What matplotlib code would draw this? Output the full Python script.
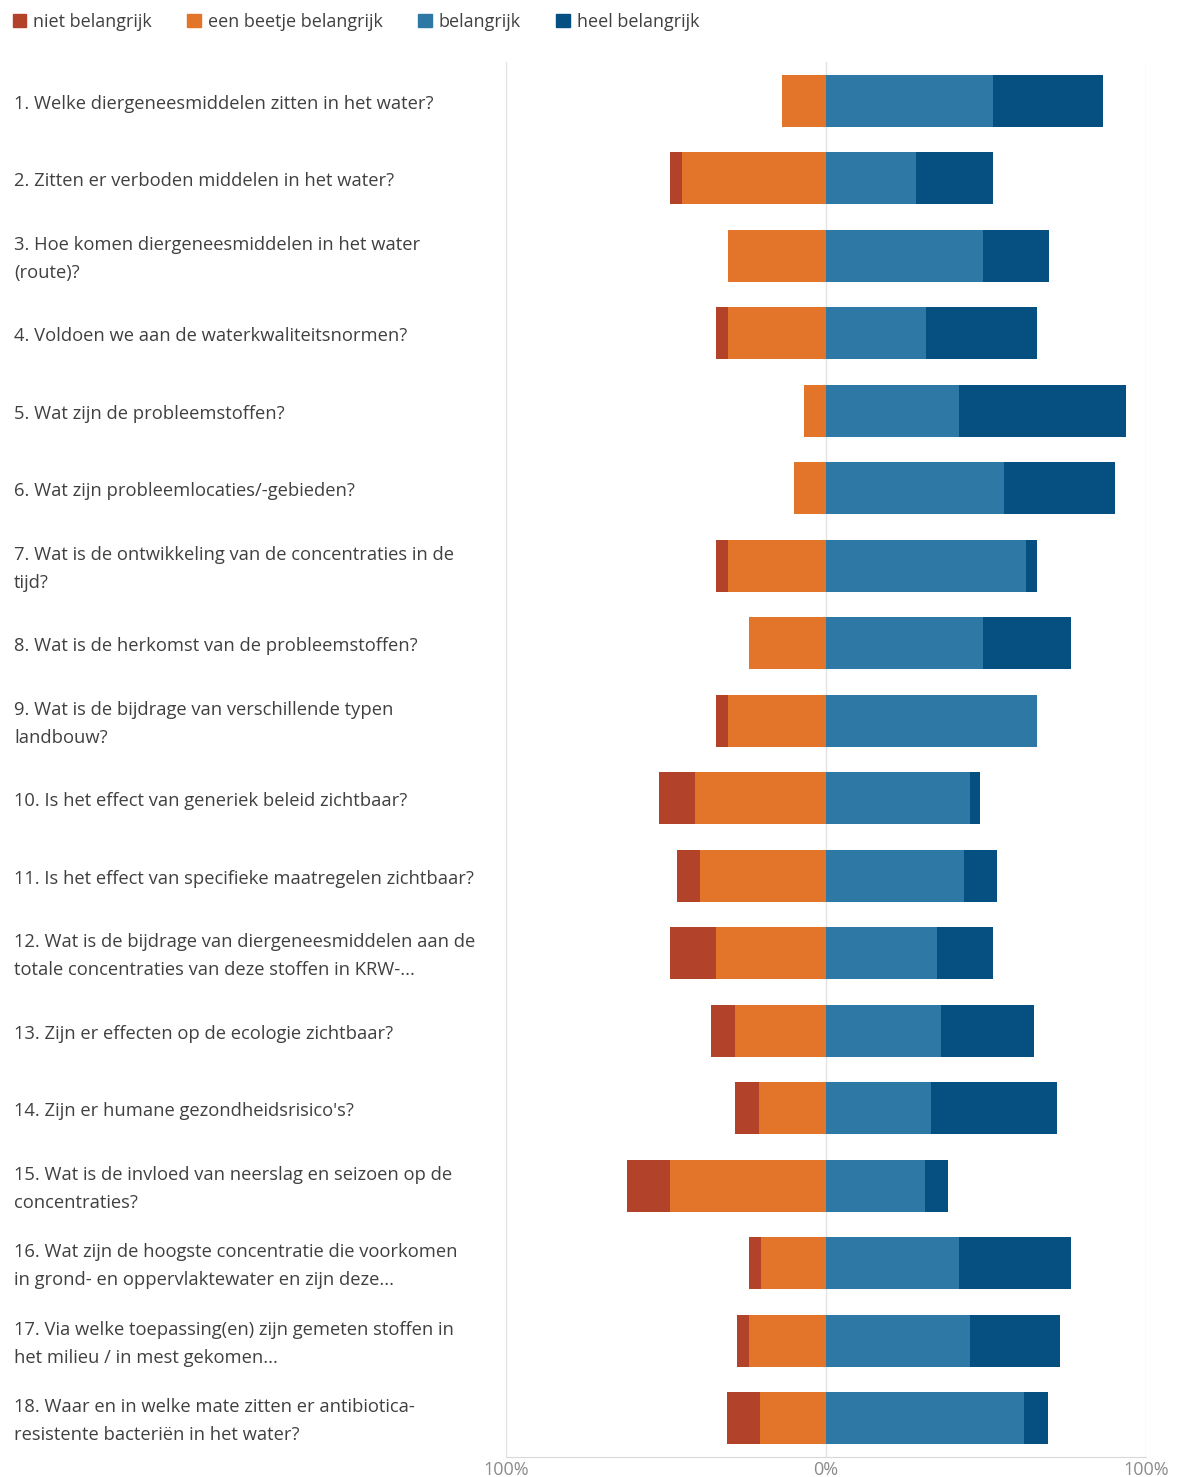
import matplotlib.pyplot as plt
import numpy as np
from matplotlib.transforms import blended_transform_factory

plt.rcParams['font.family'] = ['Open Sans', 'DejaVu Sans']

questions = [
    "1. Welke diergeneesmiddelen zitten in het water?",
    "2. Zitten er verboden middelen in het water?",
    "3. Hoe komen diergeneesmiddelen in het water\n(route)?",
    "4. Voldoen we aan de waterkwaliteitsnormen?",
    "5. Wat zijn de probleemstoffen?",
    "6. Wat zijn probleemlocaties/-gebieden?",
    "7. Wat is de ontwikkeling van de concentraties in de\ntijd?",
    "8. Wat is de herkomst van de probleemstoffen?",
    "9. Wat is de bijdrage van verschillende typen\nlandbouw?",
    "10. Is het effect van generiek beleid zichtbaar?",
    "11. Is het effect van specifieke maatregelen zichtbaar?",
    "12. Wat is de bijdrage van diergeneesmiddelen aan de\ntotale concentraties van deze stoffen in KRW-...",
    "13. Zijn er effecten op de ecologie zichtbaar?",
    "14. Zijn er humane gezondheidsrisico's?",
    "15. Wat is de invloed van neerslag en seizoen op de\nconcentraties?",
    "16. Wat zijn de hoogste concentratie die voorkomen\nin grond- en oppervlaktewater en zijn deze...",
    "17. Via welke toepassing(en) zijn gemeten stoffen in\nhet milieu / in mest gekomen...",
    "18. Waar en in welke mate zitten er antibiotica-\nresistente bacteriën in het water?",
]

categories = ["niet belangrijk", "een beetje belangrijk", "belangrijk", "heel belangrijk"]

# percentages per question
niet = [0, 3.8, 0, 3.8, 0, 0, 3.8, 0, 3.8, 11.2, 7.2, 14.4, 7.5, 7.5, 13.4, 3.8, 3.8, 10.3]
beetje = [13.8, 45.0, 30.6, 30.6, 6.9, 10.0, 30.6, 24.0, 30.6, 41.0, 39.4, 34.4, 28.4, 21.0, 48.8, 20.3, 24.0, 20.6]
belangrijk = [52.2, 28.1, 49.0, 31.2, 41.6, 55.6, 62.5, 49.0, 66.0, 45.0, 43.1, 34.7, 36.0, 32.8, 31.0, 41.6, 45.0, 62.0]
heel = [34.4, 24.1, 20.6, 34.7, 52.2, 34.7, 3.4, 27.5, 0, 3.1, 10.3, 17.5, 29.0, 39.4, 7.2, 35.0, 28.1, 7.5]

colors = ['#B2432A', '#E3752A', '#2E78A6', '#054F81']

niet = np.array(niet) / 100
beetje = np.array(beetje) / 100
belangrijk = np.array(belangrijk) / 100
heel = np.array(heel) / 100

fig = plt.figure(figsize=(11.8, 14.77), dpi=100)
ax = fig.add_axes([506 / 1180, 1 - 1457 / 1477, 640 / 1180, 1395 / 1477])

y = np.arange(len(questions))
h = 0.67
ax.barh(y, -beetje, height=h, color=colors[1], label=categories[1], zorder=3)
ax.barh(y, -niet, left=-beetje, height=h, color=colors[0], label=categories[0], zorder=3)
ax.barh(y, belangrijk, height=h, color=colors[2], label=categories[2], zorder=3)
ax.barh(y, heel, left=belangrijk, height=h, color=colors[3], label=categories[3], zorder=3)

ax.set_xlim(-1, 1)
ax.set_ylim(len(questions) - 0.5, -0.5)
ax.set_xticks([-1, 0, 1])
ax.set_xticklabels(["100%", "0%", "100%"], color='#8c8c8c', fontsize=13)
ax.tick_params(axis='x', length=0, pad=3)
ax.set_yticks([])
ax.grid(axis='x', color='#e3e3e3', linewidth=1, zorder=0)
for s in ['top', 'left', 'right']:
    ax.spines[s].set_visible(False)
ax.spines['bottom'].set_color('#d9d9d9')

trans = blended_transform_factory(fig.transFigure, ax.transData)
for i, q in enumerate(questions):
    ax.text(14 / 1180, i + 0.04, q, transform=trans,
            ha='left', va='center', fontsize=13.2, color='#404040', linespacing=1.7)

# legend
handles = [plt.Rectangle((0, 0), 1, 1, color=c) for c in colors]
fig.legend(handles, categories, loc='upper left', bbox_to_anchor=(0.0, 1.0), ncol=4,
           frameon=False, fontsize=13, handlelength=0.75, handleheight=0.75,
           handletextpad=0.4, columnspacing=1.95, labelcolor='#404040', borderaxespad=0.3)

plt.savefig('out.png', dpi=100)
